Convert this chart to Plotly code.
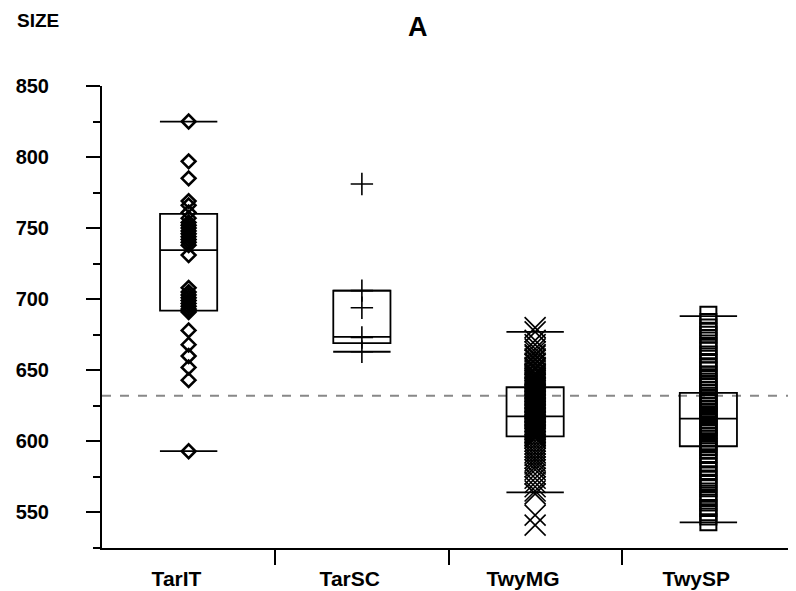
import plotly.graph_objects as go

# ---------------- data ----------------
categories = ["TarIT", "TarSC", "TwyMG", "TwySP"]

tarit = [825, 797, 785, 769, 766, 761, 757, 754, 752, 750, 748, 746, 744, 742, 740,
         738, 731, 708, 705, 703, 701, 699, 697, 695, 693, 692, 691, 678, 668, 660,
         652, 643, 593]
tarsc = [781, 706, 694, 673, 663]
twymg = [680, 677, 671, 668, 665, 663, 661, 660, 658, 657, 655, 654, 652, 651, 650,
         648, 647, 646, 645, 644, 643, 642, 641, 640, 639, 638, 637, 636, 635, 634,
         633, 632, 631, 630, 629, 628, 627, 626, 625, 624, 623, 622, 621, 620, 619,
         618, 617, 616, 615, 614, 613, 612, 611, 610, 609, 608, 607, 606, 605, 604,
         603, 602, 600, 598, 596, 594, 592, 590, 588, 586, 584, 582, 580, 577, 574,
         571, 568, 565, 563, 548, 541]
twysp = [689, 684, 680, 677, 675, 671, 667, 664, 661, 658, 655, 652, 650, 647, 645,
         642, 640, 638, 636, 634, 632, 630, 628, 627, 625, 623, 621, 620, 618, 617,
         615, 613, 611, 610, 608, 606, 604, 602, 600, 598, 596, 594, 591, 588, 585,
         582, 579, 576, 573, 570, 567, 563, 560, 557, 553, 550, 547, 543]

box_q1 = [692, 669, 603.5, 596.5]
box_median = [734.5, 673.5, 617.5, 616]
box_q3 = [760, 706, 638, 634]
cap_low = [593, 663, 564, 543]
cap_high = [825, 706, 677, 688]

reference_level = 632

y_ticks = [550, 600, 650, 700, 750, 800, 850]

series = [tarit, tarsc, twymg, twysp]
symbols = ["diamond-open", "cross-thin-open", "x-thin-open", "square-open"]
sizes = [10.5, 16, 21, 16]
widths = [2.6, 1.6, 1.6, 2]

FONT = "Liberation Sans, Arial, sans-serif"

# page body has an 8px margin; figure is sized to fit the 796x591 window
W, H = 788, 583
L, R, T, B = 94, 1, 78, 43
PW, PH = W - L - R, H - T - B

fig = go.Figure()

# boxes (no whiskers; caps drawn separately)
for i, cat in enumerate(categories):
    fig.add_trace(go.Box(
        x=[i], q1=[box_q1[i]], median=[box_median[i]], q3=[box_q3[i]],
        lowerfence=[box_q1[i]], upperfence=[box_q3[i]],
        width=0.33, fillcolor="rgba(0,0,0,0)",
        line=dict(color="black", width=1.8), boxpoints=False,
        hoverinfo="skip", name=cat))

# whisker caps
for i, cat in enumerate(categories):
    fig.add_trace(go.Scatter(
        x=[i, i], y=[cap_low[i], cap_high[i]], mode="markers",
        marker=dict(symbol="line-ew-open", size=41, color="black",
                    line=dict(color="black", width=1.8)),
        hoverinfo="skip"))

# points
for i, vals in enumerate(series):
    fig.add_trace(go.Scatter(
        x=[i] * len(vals), y=vals, mode="markers",
        marker=dict(symbol=symbols[i], size=sizes[i], color="black",
                    line=dict(color="black", width=widths[i])),
        name=categories[i]))

# reference line
fig.add_shape(type="line", xref="paper", yref="y", x0=0, x1=1,
              y0=reference_level, y1=reference_level, layer="below",
              line=dict(color="#888888", width=2, dash="dash"))

fig.update_layout(
    width=W, height=H,
    margin=dict(l=L, r=R, t=T, b=B, pad=0),
    paper_bgcolor="white", plot_bgcolor="white",
    showlegend=False,
    font=dict(family=FONT, size=20, color="black"),
    xaxis=dict(
        range=[-0.5, 3.5], showgrid=False, zeroline=False,
        showline=True, linecolor="black", linewidth=2,
        tickvals=[i - 0.07 for i in range(len(categories))],
        ticktext=["<b>%s</b>" % c for c in categories],
        ticks="", ticklabelstandoff=11,
        tickfont=dict(family=FONT, size=21, color="black"),
        minor=dict(tickvals=[0.5, 1.5, 2.5], ticks="outside", ticklen=15,
                   tickwidth=1.5, tickcolor="black", showgrid=False),
    ),
    yaxis=dict(
        range=[524.9, 850], showgrid=False, zeroline=False,
        showline=True, linecolor="black", linewidth=2,
        tickvals=y_ticks, ticktext=["<b>%d</b>" % v for v in y_ticks],
        ticks="outside", ticklen=14, tickwidth=1.5,
        tickcolor="black", ticklabelstandoff=33,
        tickfont=dict(family=FONT, size=20, color="black"),
        minor=dict(dtick=25, tick0=525, ticks="outside", ticklen=7, tickwidth=1.5,
                   tickcolor="black", showgrid=False),
    ),
)

fig.add_annotation(text="<b>A</b>", xref="paper", yref="paper",
                   x=(410 - L) / PW, y=1 + (T - 19) / PH,
                   showarrow=False, font=dict(family=FONT, size=27, color="black"),
                   xanchor="center", yanchor="middle")
fig.add_annotation(text="<b>SIZE</b>", xref="paper", yref="paper",
                   x=(7 - L) / PW, y=1 + (T - 12) / PH,
                   showarrow=False, font=dict(family=FONT, size=19, color="black"),
                   xanchor="left", yanchor="middle")

fig.write_html("out.html")
